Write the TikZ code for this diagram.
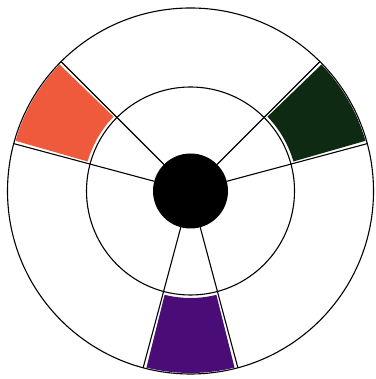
\documentclass[tikz,border=0pt]{standalone}
\usepackage{tikz}
\usetikzlibrary{calc}

\definecolor{paintorange}{HTML}{F05A3C}
\definecolor{paintgreen}{HTML}{0F2A12}
\definecolor{paintpurple}{HTML}{4A0D78}

\begin{document}
\begin{tikzpicture}[
        x=1pt, y=1pt,
        ring/.style={
            circle, draw=black, line width=1.1pt, inner sep=0pt, outer sep=0pt
        },
        hub/.style={
            circle, fill=black, inner sep=0pt, outer sep=0pt, minimum size=75pt
        },
        spoke/.style={
            draw=black, line width=1.1pt
        }
    ]
        \useasboundingbox (0,0) rectangle (375,379);
        \coordinate (c) at (190.5,188);

        % ----------------------------------------------------
        % PAINTED SEGMENTS (outer band)
        % ----------------------------------------------------
        \foreach \mid/\paint in {150/paintorange, 30/paintgreen, 270/paintpurple} {
            \fill[\paint] ($(c)+(\mid-14:107)$) arc[start angle=\mid-14, end angle=\mid+14, radius=107]
                -- ($(c)+(\mid+14:182)$) arc[start angle=\mid+14, end angle=\mid-14, radius=182] -- cycle;
        }

        % ----------------------------------------------------
        % RINGS AND CENTRE
        % ----------------------------------------------------
        \node[ring, minimum size=366pt] (rim) at (c) {};
        \node[ring, minimum size=208pt] (inner) at (c) {};
        \node[hub] (hub) at (c) {};

        % Spokes
        \foreach \a in {135, 165, 15, 45, 255, 285} {
            \draw[spoke] (hub.\a) -- (rim.\a);
        }

    \end{tikzpicture}
\end{document}
